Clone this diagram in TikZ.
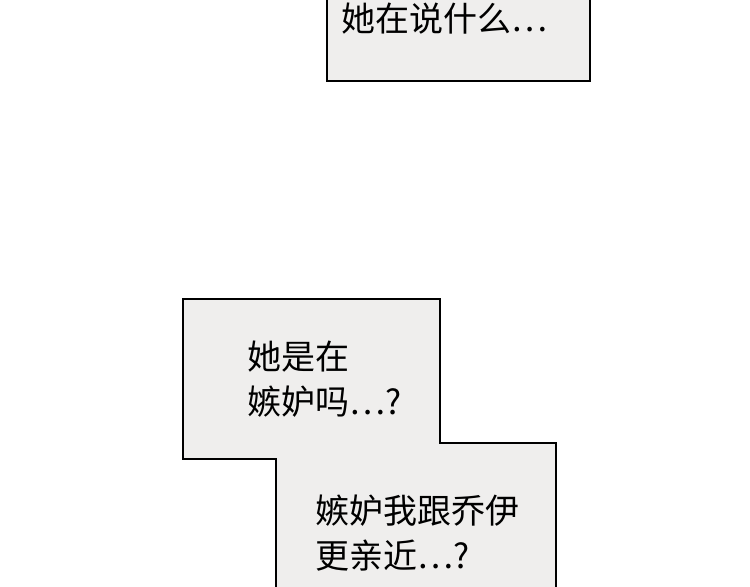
\documentclass[tikz,border=0pt]{standalone}
\usepackage{fontspec}
\newfontfamily\cjk{Noto Sans CJK SC}
\definecolor{boxfill}{HTML}{EFEEED}
\begin{document}
\begin{tikzpicture}[x=0.75pt,y=-0.75pt,
  bubble/.style={draw=black,line width=0.8pt,fill=boxfill},
  txt/.style={anchor=west,inner sep=0pt,font=\cjk\fontsize{25.5}{30}\selectfont,text=black}]
\useasboundingbox (0,0) rectangle (750,586);
\fill[white] (0,0) rectangle (750,586);
\draw[bubble] (327,-5) rectangle (590,81);
\draw[bubble] (183,299) -- (440,299) -- (440,443) -- (556,443) -- (556,595) -- (276,595) -- (276,459) -- (183,459) -- cycle;
\node[txt] (t1) at (341,19) {她在说什么…};
\node[txt] (t2) at (247,357) {她是在};
\node[txt] (t3) at (247,402) {嫉妒吗…?};
\node[txt] (t4) at (315,511) {嫉妒我跟乔伊};
\node[txt] (t5) at (315,556) {更亲近…?};
\end{tikzpicture}
\end{document}
